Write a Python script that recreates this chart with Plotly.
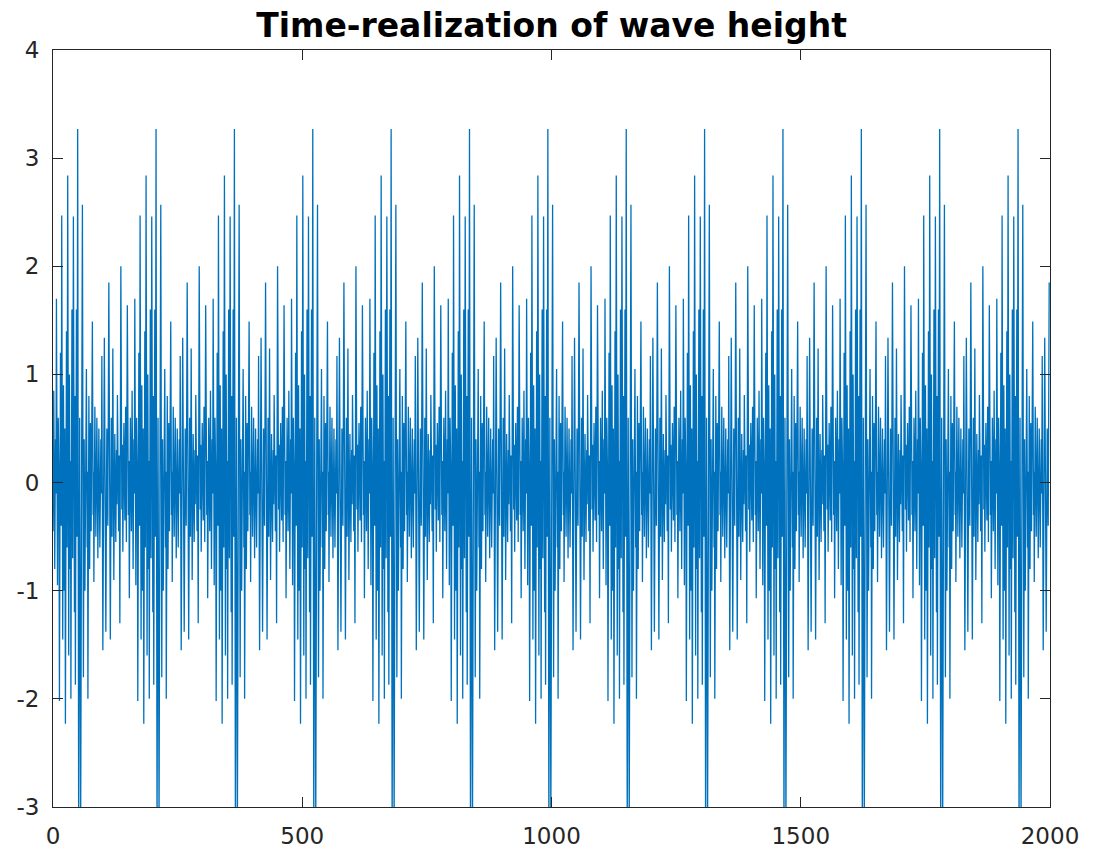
import plotly.graph_objects as go

# One period of the wave record: time offsets from the
# burst peak (samples) and wave height at each local extremum.
period_tau = [-78.5, -77.5, -75.0, -73.8, -72.6, -70.6, -68.6, -67.6, -66.6, -64.5,
              -62.5, -61.0, -59.5, -57.6, -55.5, -54.5, -53.6, -51.5, -49.5, -48.0,
              -46.0, -44.5, -43.6, -42.6, -40.5, -39.0, -37.6, -36.6, -34.5, -33.0,
              -32.0, -30.0, -28.5, -27.0, -25.8, -24.6, -22.5, -21.3, -20.0, -18.0,
              -16.5, -15.0, -14.3, -13.6, -11.5, -10.0, -8.6, -6.5, -5.5, -4.6,
              -2.5, -1.3, 0.0, 2.0, 4.0, 6.0, 8.0, 9.5, 11.5, 13.0,
              14.5, 16.0, 17.5, 19.0, 19.8, 20.5, 22.5, 24.0, 25.5, 27.0,
              29.5, 31.0, 31.8, 32.5, 34.5, 36.5, 38.5, 40.5, 42.5, 44.5,
              46.5, 47.5, 48.5, 50.5, 53.5, 56.5, 58.5, 60.5, 62.5, 65.5,
              67.5, 69.0, 70.5, 72.5, 74.5, 76.5, 78.0]
period_h = [-0.20, 0.81, -0.45, 0.25, -1.30, 2.00, -0.25, 0.35, -0.64, 0.55,
            -0.35, 0.70, -0.55, 1.64, -0.30, 0.20, -1.07, 0.60, -0.45, 0.85,
            -0.80, 0.40, -0.10, 1.70, -0.95, 0.60, 0.10, -2.02, 1.20, -0.40,
            2.47, -1.45, 0.90, -1.00, 0.50, -2.23, 1.40, -0.60, 2.84, -1.60,
            1.00, -0.80, 0.20, -2.00, 1.60, -0.70, 2.46, -1.20, 0.80, -1.87,
            1.60, -0.50, 3.27, -3.30, 0.60, -3.20, 0.30, 2.57, -1.80, 0.40,
            -1.00, 0.20, 1.05, -0.60, 0.10, -2.00, 0.80, -0.80, 0.55, -0.45,
            1.49, -0.30, 0.10, -0.92, 0.70, -0.50, 0.60, -0.70, 0.50, -0.60,
            0.40, -0.10, 1.17, -1.55, 1.34, -1.38, 0.50, -0.40, 1.85, -1.45,
            0.60, -0.50, 1.24, -0.90, 0.45, -0.55, 0.30]

# Times of the repeating burst peaks (h = 3.27)
burst_centers = [-107.7, 49.5, 206.7, 363.9, 521.1, 678.3, 835.5, 992.7,
                 1149.9, 1307.1, 1464.3, 1621.5, 1778.7, 1935.9, 2093.1]

x_ticks = [0, 500, 1000, 1500, 2000]
x_tick_text = ["0", "500", "1000", "1500", "2000"]
y_ticks = [-3, -2, -1, 0, 1, 2, 3, 4]
y_tick_text = ["-3", "-2", "-1", "0", "1", "2", "3", "4"]

t_vals, h_vals = [], []
for c in burst_centers:
    for tau, h in zip(period_tau, period_h):
        t = c + tau
        if 0 <= t <= 2000:
            t_vals.append(t)
            h_vals.append(h)

fig = go.Figure()
fig.add_trace(go.Scatter(x=t_vals, y=h_vals, mode="lines",
                         line=dict(color="#0072BD", width=1.3), showlegend=False))

axis_common = dict(showline=True, linecolor="#262626", linewidth=1, mirror="ticks",
                   ticks="inside", ticklen=10, tickcolor="#262626", tickwidth=1,
                   showgrid=False, zeroline=False,
                   tickfont=dict(family="DejaVu Sans", size=23, color="#262626"))

fig.update_layout(
    width=1097, height=861,
    margin=dict(l=53, r=47, t=50, b=51),
    paper_bgcolor="white", plot_bgcolor="white",
    title=dict(text="<b>Time-realization of wave height</b>",
               font=dict(family="DejaVu Sans", size=33, color="black"),
               x=0.5028, xanchor="center", xref="container",
               y=1 - 25 / 861, yanchor="middle", yref="container"),
    xaxis=dict(range=[0, 2000], tickvals=x_ticks, ticktext=x_tick_text,
               ticklabelstandoff=8, **axis_common),
    yaxis=dict(range=[-3, 4], tickvals=y_ticks, ticktext=y_tick_text,
               ticklabelstandoff=8, **axis_common),
)

fig.write_html("out.html")
